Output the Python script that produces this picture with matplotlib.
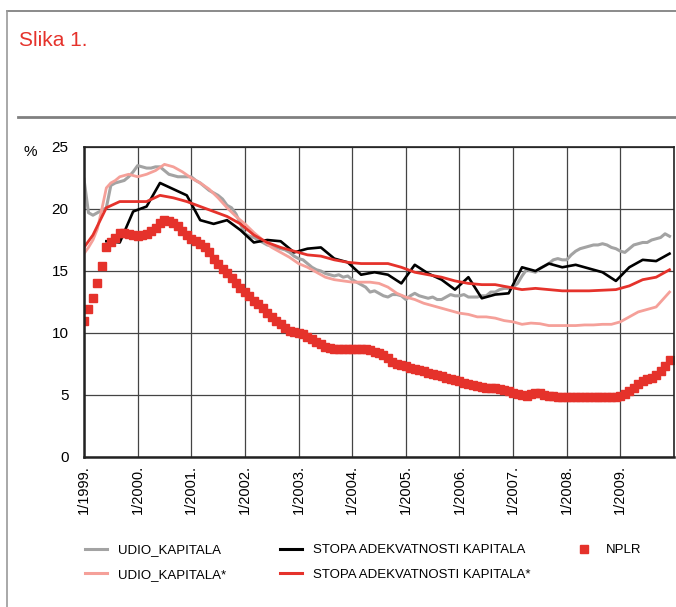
import numpy as np
import matplotlib
matplotlib.use('Agg')
import matplotlib.pyplot as plt
from matplotlib.lines import Line2D

plt.rcParams['font.family'] = ['Liberation Sans', 'DejaVu Sans']

# months counted from 1/1999 (0) to 12/2009 (131)
tick_months = list(range(0, 121, 12))
tick_labels = ['1/1999.', '1/2000.', '1/2001.', '1/2002.', '1/2003.', '1/2004.',
               '1/2005.', '1/2006.', '1/2007.', '1/2008.', '1/2009.']

# UDIO_KAPITALA, monthly
udio = [22.4, 19.7, 19.5, 19.7, 19.9, 20.1, 21.9, 22.1, 22.2, 22.3, 22.6, 23.0,
        23.5, 23.4, 23.3, 23.3, 23.4, 23.4, 23.1, 22.8, 22.7, 22.6, 22.6, 22.6,
        22.6, 22.3, 22.1, 21.8, 21.5, 21.3, 21.1, 20.8, 20.3, 20.1, 19.6, 18.8,
        18.0, 17.8, 17.7, 17.5, 17.3, 17.1, 17.0, 16.9, 16.8, 16.7, 16.5, 16.2,
        16.0, 15.9, 15.6, 15.3, 15.1, 15.0, 14.8, 14.7, 14.6, 14.7, 14.5, 14.6,
        14.3, 14.1, 13.9, 13.7, 13.3, 13.4, 13.2, 13.0, 12.9, 13.1, 13.1, 13.0,
        12.7, 13.0, 13.2, 13.0, 12.9, 12.8, 12.9, 12.7, 12.7, 12.9, 13.1, 13.0,
        13.0, 13.1, 12.9, 12.9, 12.9, 13.0, 13.0, 13.3, 13.3, 13.5, 13.6, 13.6,
        13.7, 14.0, 14.6, 15.1, 15.0, 14.9, 15.2, 15.4, 15.6, 15.9, 16.0, 15.9,
        15.9, 16.3, 16.6, 16.8, 16.9, 17.0, 17.1, 17.1, 17.2, 17.1, 16.9, 16.8,
        16.6, 16.5, 16.8, 17.1, 17.2, 17.3, 17.3, 17.5, 17.6, 17.7, 18.0, 17.8]

# UDIO_KAPITALA*
udio2_m = [0, 1, 2, 3, 4, 5, 6, 7, 8, 10, 12, 14, 16, 18, 20, 22, 24, 26, 28, 30,
           32, 34, 36, 38, 40, 42, 44, 46, 48, 50, 52, 54, 56, 58, 60, 62, 64, 66,
           68, 70, 72, 74, 76, 78, 80, 82, 84, 86, 88, 90, 92, 94, 96, 98, 100,
           102, 104, 106, 108, 110, 112, 114, 116, 118, 120, 122, 124, 126, 128,
           130, 131]
udio2 = [16.4, 16.9, 17.5, 18.4, 20.0, 21.7, 22.1, 22.3, 22.6, 22.8, 22.6, 22.8,
         23.1, 23.6, 23.4, 23.0, 22.5, 22.1, 21.6, 20.9, 20.1, 19.4, 18.8, 18.1,
         17.5, 16.9, 16.5, 16.1, 15.6, 15.3, 14.9, 14.5, 14.3, 14.2, 14.1, 14.1,
         14.1, 14.0, 13.7, 13.2, 12.9, 12.7, 12.4, 12.2, 12.0, 11.8, 11.6, 11.5,
         11.3, 11.3, 11.2, 11.0, 10.9, 10.7, 10.8, 10.75, 10.6, 10.6, 10.6, 10.6,
         10.65, 10.65, 10.7, 10.7, 10.9, 11.3, 11.7, 11.9, 12.1, 12.9, 13.3]

# STOPA ADEKVATNOSTI KAPITALA, quarterly
stopa_m = list(range(5, 132, 3))
stopa = [17.4, 17.3, 19.8, 20.2, 22.1, 21.6, 21.1, 19.1, 18.8, 19.1, 18.3, 17.3,
         17.5, 17.4, 16.5, 16.8, 16.9, 16.0, 15.7, 14.7, 14.9, 14.7, 14.0, 15.5,
         14.8, 14.3, 13.5, 14.5, 12.8, 13.1, 13.2, 15.3, 15.0, 15.6, 15.3, 15.5,
         15.2, 14.9, 14.2, 15.3, 15.9, 15.8, 16.4]

# STOPA ADEKVATNOSTI KAPITALA*
stopa2_m = [0, 2] + list(range(5, 132, 3))
stopa2 = [16.9, 17.9, 20.1, 20.6, 20.6, 20.6, 21.1, 20.9, 20.6, 20.2, 19.8, 19.4,
          18.8, 17.9, 17.3, 16.9, 16.6, 16.3, 16.2, 15.9, 15.7, 15.6, 15.6, 15.6,
          15.3, 14.9, 14.7, 14.5, 14.2, 14.0, 13.9, 13.9, 13.7, 13.5, 13.6, 13.5,
          13.4, 13.4, 13.4, 13.45, 13.5, 13.8, 14.3, 14.5, 15.1]

# NPLR, monthly
nplr = [11.0, 11.9, 12.8, 14.0, 15.4, 16.9, 17.3, 17.7, 18.1, 18.1, 18.0, 17.9,
        17.8, 17.9, 18.0, 18.2, 18.5, 18.9, 19.1, 19.0, 18.9, 18.6, 18.2, 17.9,
        17.6, 17.4, 17.2, 16.9, 16.5, 16.0, 15.6, 15.2, 14.8, 14.4, 14.0, 13.6,
        13.3, 13.0, 12.6, 12.3, 12.0, 11.6, 11.3, 11.0, 10.7, 10.4, 10.2, 10.1,
        10.0, 9.9, 9.7, 9.5, 9.3, 9.1, 8.9, 8.8, 8.75, 8.75, 8.75, 8.75,
        8.75, 8.7, 8.7, 8.7, 8.6, 8.5, 8.4, 8.2, 8.0, 7.7, 7.5, 7.4,
        7.3, 7.2, 7.1, 7.0, 6.9, 6.8, 6.7, 6.6, 6.5, 6.4, 6.3, 6.2,
        6.1, 6.0, 5.9, 5.8, 5.7, 5.65, 5.6, 5.6, 5.6, 5.5, 5.4, 5.3,
        5.2, 5.1, 5.0, 4.95, 5.05, 5.2, 5.15, 5.0, 4.95, 4.9, 4.85, 4.8,
        4.8, 4.8, 4.8, 4.8, 4.8, 4.8, 4.8, 4.8, 4.8, 4.8, 4.8, 4.8,
        4.9, 5.1, 5.3, 5.6, 5.9, 6.1, 6.3, 6.4, 6.6, 6.9, 7.3, 7.8]

c_gray = '#a3a3a3'
c_pink = '#f5a099'
c_black = '#000000'
c_red = '#e5322b'

fig = plt.figure(figsize=(6.76, 6.07), dpi=100)

# frame and header
fig.add_artist(Line2D([7/676, 1], [1 - 11/607, 1 - 11/607], color='#777777', lw=1.2))
fig.add_artist(Line2D([7/676, 7/676], [0, 1 - 11/607], color='#999999', lw=1.2))
fig.add_artist(Line2D([18/676, 1], [1 - 117/607, 1 - 117/607], color='#808080', lw=2))
fig.text(19/676, 1 - 40/607, 'Slika 1.', color=c_red, fontsize=15, va='center', ha='left')

ax = fig.add_axes([84/676, 150/607, 590/676, 310/607])

ax.plot(range(len(udio)), udio, color=c_gray, lw=2.2)
ax.plot(udio2_m, udio2, color=c_pink, lw=2)
ax.plot(stopa_m, stopa, color=c_black, lw=1.9)
ax.plot(stopa2_m, stopa2, color=c_red, lw=2)
ax.plot(range(len(nplr)), nplr, ls='none', marker='s', ms=6, color=c_red, mec=c_red)

ax.set_xlim(0, 132)
ax.set_ylim(0, 25)
ax.set_yticks([0, 5, 10, 15, 20, 25])
ax.set_xticks(tick_months)
ax.set_xticklabels(tick_labels, rotation=90, va='top', ha='center')
ax.tick_params(axis='y', length=0, pad=11, labelsize=11)
ax.tick_params(axis='x', length=0, pad=6, labelsize=10.5)
ax.grid(True, color='#444444', lw=0.9)
ax.set_axisbelow(True)
for s in ax.spines.values():
    s.set_color('#222222')
    s.set_linewidth(1.2)
ax.spines['left'].set_linewidth(1.8)
ax.spines['bottom'].set_linewidth(1.8)

fig.text(30/676, 1 - 152/607, '%', fontsize=11, va='center', ha='center')

# legend in three columns
h_udio = Line2D([], [], color=c_gray, lw=2.2)
h_udio2 = Line2D([], [], color=c_pink, lw=2.2)
h_stopa = Line2D([], [], color=c_black, lw=2.2)
h_stopa2 = Line2D([], [], color=c_red, lw=2.2)
h_nplr = Line2D([], [], ls='none', marker='s', ms=6, color=c_red)
leg_kw = dict(frameon=False, fontsize=9.5, handlelength=1.7, handletextpad=0.8,
              labelspacing=0.95, loc='upper left', borderpad=0, borderaxespad=0)
fig.legend([h_udio, h_udio2], ['UDIO_KAPITALA', 'UDIO_KAPITALA*'],
           bbox_to_anchor=(85/676, 1 - 544/607), **leg_kw)
fig.legend([h_stopa, h_stopa2], ['STOPA ADEKVATNOSTI KAPITALA', 'STOPA ADEKVATNOSTI KAPITALA*'],
           bbox_to_anchor=(280/676, 1 - 544/607), **leg_kw)
fig.legend([h_nplr], ['NPLR'],
           bbox_to_anchor=(573/676, 1 - 544/607), **leg_kw)

fig.savefig('out.png', dpi=100)
